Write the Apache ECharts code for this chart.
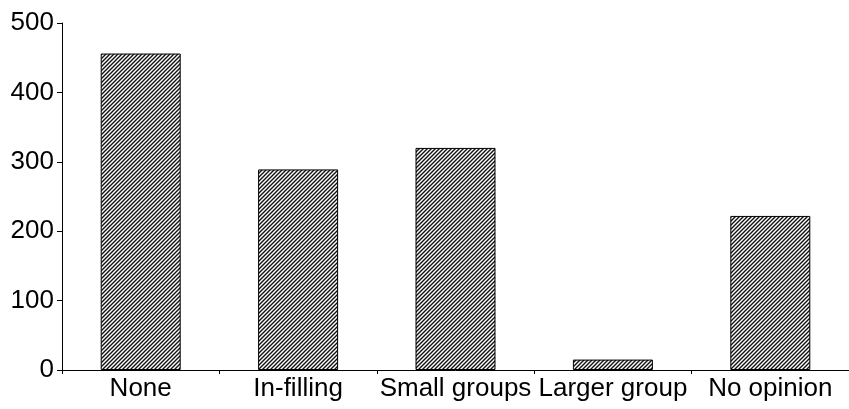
<!DOCTYPE html>
<html>
<head>
<meta charset="utf-8">
<script src="https://cdn.jsdelivr.net/npm/echarts@6/dist/echarts.min.js"></script>
<style>
  html, body { margin: 0; padding: 0; background: #fff; }
  #chart { width: 849px; height: 409px; }
</style>
</head>
<body>
<div id="chart"></div>
<script>
// 数据
const categories = ['None', 'In-filling', 'Small groups', 'Larger group', 'No opinion'];
const counts = [456, 289, 320, 15, 222];
const yTicks = [0, 100, 200, 300, 400, 500];

// 斜线填充
function hatch() {
  const c = document.createElement('canvas');
  c.width = 4; c.height = 4;
  const ctx = c.getContext('2d');
  ctx.fillStyle = '#fff';
  ctx.fillRect(0, 0, 4, 4);
  ctx.strokeStyle = '#111';
  ctx.lineWidth = 1.4;
  ctx.beginPath();
  ctx.moveTo(-1, 5); ctx.lineTo(5, -1);
  ctx.moveTo(-1, 1); ctx.lineTo(1, -1);
  ctx.moveTo(3, 5); ctx.lineTo(5, 3);
  ctx.stroke();
  return c;
}

const myChart = echarts.init(document.getElementById('chart'));
const option = {
  animation: false,
  grid: { left: 62, top: 23, width: 791, bottom: 39 },
  xAxis: {
    type: 'category',
    data: categories,
    axisLine: { lineStyle: { color: '#000', width: 1 } },
    axisTick: { show: true, length: 4, lineStyle: { color: '#000' } },
    axisLabel: {
      color: '#000', fontSize: 26, fontFamily: 'Liberation Sans, Arial', margin: 6,
      interval: 0
    }
  },
  yAxis: {
    type: 'value',
    min: yTicks[0],
    max: yTicks[yTicks.length - 1],
    interval: 100,
    splitLine: { show: false },
    axisLine: { show: true, lineStyle: { color: '#000', width: 1 } },
    axisTick: { show: true, length: 5, lineStyle: { color: '#000' } },
    axisLabel: { color: '#000', fontSize: 26, fontFamily: 'Liberation Sans, Arial', margin: 8 }
  },
  series: [{
    type: 'bar',
    data: counts,
    barWidth: 80,
    itemStyle: {
      color: { image: hatch(), repeat: 'repeat' },
      borderColor: '#000',
      borderWidth: 1
    }
  }]
};
option && myChart.setOption(option);
</script>
</body>
</html>
